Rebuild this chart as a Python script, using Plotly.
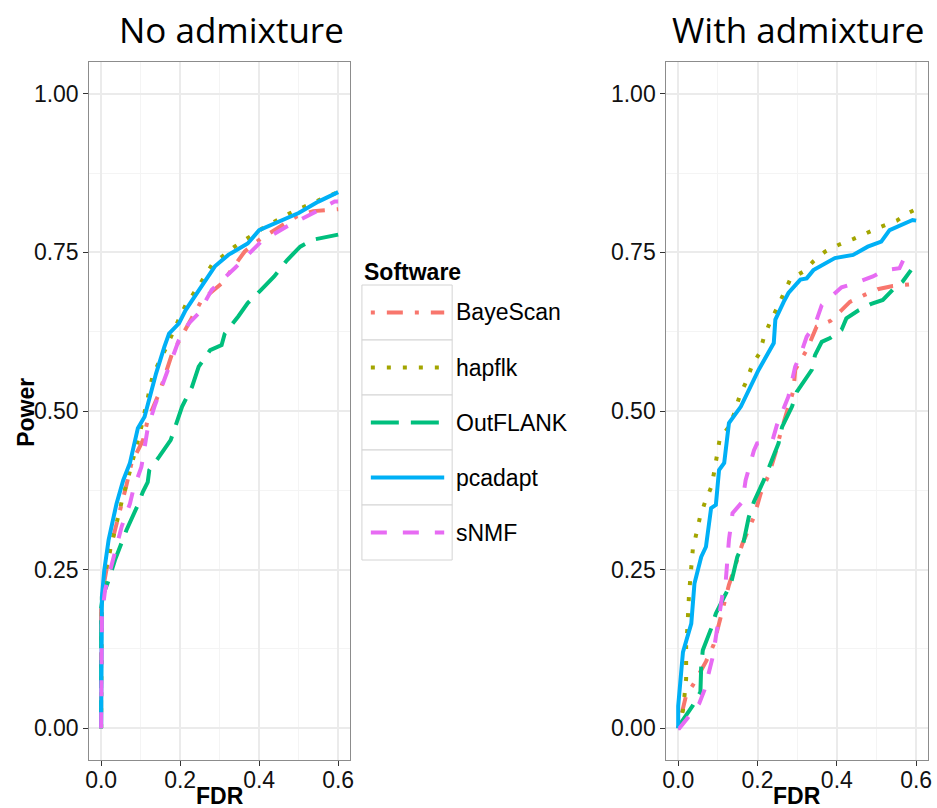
import plotly.graph_objects as go

W, H = 937, 808

software = ["BayeScan", "hapflk", "OutFLANK", "pcadapt", "sNMF"]
colors = ["#F8766D", "#A3A500", "#00BF7D", "#00B0F6", "#E76BF3"]
dashes = ["4px,12px,16px,12px", "4px,12px", "28px,12px", "solid", "16px,16px"]

panel_titles = ["No admixture", "With admixture"]
x_ticks = [0.0, 0.2, 0.4, 0.6]
x_ticklabels = ["0.0", "0.2", "0.4", "0.6"]
y_ticks = [0.0, 0.25, 0.5, 0.75, 1.0]
y_ticklabels = ["0.00", "0.25", "0.50", "0.75", "1.00"]

# ---- No admixture ----
no_bayescan_fdr = [0, 0, 0.005, 0.016, 0.023, 0.035, 0.052, 0.064, 0.077, 0.106, 0.118, 0.147, 0.180, 0.222, 0.255, 0.305, 0.363, 0.405, 0.45, 0.496, 0.537, 0.60]
no_bayescan_pow = [0, 0.19, 0.22, 0.254, 0.283, 0.312, 0.352, 0.383, 0.418, 0.454, 0.486, 0.528, 0.591, 0.638, 0.675, 0.701, 0.751, 0.772, 0.79, 0.807, 0.815, 0.818]

no_hapflk_fdr = [0, 0, 0.002, 0.015, 0.03, 0.044, 0.052, 0.075, 0.10, 0.131, 0.164, 0.197, 0.214, 0.25, 0.28, 0.338, 0.409, 0.446, 0.479, 0.554, 0.60]
no_hapflk_pow = [0, 0.183, 0.207, 0.26, 0.30, 0.333, 0.357, 0.41, 0.47, 0.557, 0.599, 0.645, 0.667, 0.70, 0.730, 0.759, 0.788, 0.801, 0.812, 0.833, 0.845]

no_outflank_fdr = [0, 0, 0.005, 0.019, 0.035, 0.052, 0.064, 0.093, 0.106, 0.118, 0.122, 0.147, 0.176, 0.205, 0.230, 0.247, 0.276, 0.305, 0.313, 0.347, 0.371, 0.405, 0.438, 0.471, 0.504, 0.537, 0.591, 0.60]
no_outflank_pow = [0, 0.19, 0.21, 0.233, 0.265, 0.291, 0.312, 0.352, 0.373, 0.388, 0.407, 0.428, 0.454, 0.507, 0.538, 0.570, 0.596, 0.604, 0.622, 0.649, 0.670, 0.691, 0.712, 0.738, 0.759, 0.770, 0.778, 0.778]

no_pcadapt_fdr = [0, 0, 0.002, 0.008, 0.019, 0.039, 0.056, 0.073, 0.093, 0.110, 0.139, 0.160, 0.172, 0.197, 0.214, 0.243, 0.288, 0.322, 0.371, 0.400, 0.454, 0.50, 0.55, 0.60]
no_pcadapt_pow = [0, 0.166, 0.207, 0.249, 0.297, 0.354, 0.391, 0.418, 0.473, 0.491, 0.559, 0.601, 0.622, 0.638, 0.659, 0.686, 0.728, 0.746, 0.764, 0.785, 0.799, 0.812, 0.83, 0.845]

no_snmf_fdr = [0, 0, 0.002, 0.010, 0.031, 0.052, 0.073, 0.081, 0.102, 0.118, 0.135, 0.160, 0.172, 0.197, 0.222, 0.247, 0.280, 0.338, 0.405, 0.446, 0.471, 0.537, 0.591, 0.60]
no_snmf_pow = [0, 0.16, 0.176, 0.218, 0.268, 0.318, 0.354, 0.375, 0.412, 0.473, 0.507, 0.549, 0.570, 0.612, 0.638, 0.654, 0.691, 0.725, 0.767, 0.783, 0.791, 0.812, 0.830, 0.830]

# ---- With admixture ----
wa_bayescan_fdr = [0, 0.012, 0.020, 0.037, 0.070, 0.089, 0.106, 0.128, 0.162, 0.191, 0.208, 0.228, 0.245, 0.258, 0.278, 0.291, 0.295, 0.324, 0.349, 0.384, 0.412, 0.433, 0.470, 0.503, 0.541, 0.578, 0.59]
wa_bayescan_pow = [0, 0.028, 0.052, 0.068, 0.105, 0.131, 0.173, 0.226, 0.291, 0.333, 0.370, 0.399, 0.433, 0.465, 0.507, 0.533, 0.565, 0.596, 0.633, 0.642, 0.659, 0.672, 0.683, 0.692, 0.697, 0.699, 0.70]

wa_hapflk_fdr = [0, 0.012, 0.016, 0.020, 0.020, 0.020, 0.023, 0.024, 0.027, 0.030, 0.033, 0.037, 0.047, 0.055, 0.068, 0.084, 0.091, 0.098, 0.105, 0.128, 0.143, 0.155, 0.172, 0.187, 0.205, 0.216, 0.231, 0.249, 0.283, 0.316, 0.341, 0.370, 0.405, 0.441, 0.478, 0.514, 0.551, 0.583, 0.6]
wa_hapflk_pow = [0, 0.028, 0.052, 0.078, 0.105, 0.131, 0.156, 0.181, 0.207, 0.232, 0.258, 0.283, 0.310, 0.333, 0.357, 0.381, 0.405, 0.431, 0.457, 0.475, 0.499, 0.524, 0.547, 0.573, 0.591, 0.616, 0.639, 0.662, 0.708, 0.720, 0.736, 0.751, 0.762, 0.771, 0.782, 0.791, 0.800, 0.813, 0.818]

wa_outflank_fdr = [0, 0.003, 0.037, 0.056, 0.058, 0.062, 0.083, 0.095, 0.116, 0.133, 0.149, 0.164, 0.178, 0.191, 0.216, 0.233, 0.253, 0.262, 0.287, 0.299, 0.337, 0.345, 0.362, 0.383, 0.412, 0.424, 0.453, 0.487, 0.516, 0.541, 0.566, 0.587]
wa_outflank_pow = [0, 0.005, 0.036, 0.057, 0.097, 0.123, 0.157, 0.181, 0.207, 0.228, 0.270, 0.291, 0.333, 0.357, 0.391, 0.417, 0.449, 0.475, 0.507, 0.530, 0.565, 0.588, 0.609, 0.615, 0.628, 0.646, 0.658, 0.669, 0.675, 0.691, 0.704, 0.722]

wa_pcadapt_fdr = [0, 0, 0.012, 0.016, 0.033, 0.041, 0.058, 0.070, 0.083, 0.095, 0.103, 0.116, 0.120, 0.128, 0.158, 0.203, 0.241, 0.245, 0.266, 0.278, 0.308, 0.324, 0.341, 0.374, 0.395, 0.441, 0.478, 0.512, 0.533, 0.591, 0.6]
wa_pcadapt_pow = [0, 0.035, 0.12, 0.128, 0.165, 0.228, 0.27, 0.286, 0.347, 0.352, 0.407, 0.418, 0.438, 0.481, 0.507, 0.565, 0.607, 0.644, 0.672, 0.686, 0.707, 0.709, 0.722, 0.733, 0.741, 0.746, 0.759, 0.767, 0.785, 0.801, 0.80]

wa_snmf_fdr = [0, 0.003, 0.053, 0.066, 0.087, 0.112, 0.120, 0.128, 0.137, 0.162, 0.170, 0.191, 0.199, 0.237, 0.249, 0.278, 0.295, 0.308, 0.324, 0.345, 0.362, 0.383, 0.412, 0.449, 0.491, 0.520, 0.558, 0.570]
wa_snmf_pow = [0, 0.0, 0.039, 0.060, 0.112, 0.212, 0.233, 0.297, 0.339, 0.357, 0.391, 0.438, 0.449, 0.452, 0.478, 0.523, 0.570, 0.588, 0.617, 0.636, 0.667, 0.678, 0.695, 0.702, 0.712, 0.722, 0.725, 0.741]

panels = [
    [(no_bayescan_fdr, no_bayescan_pow), (no_hapflk_fdr, no_hapflk_pow), (no_outflank_fdr, no_outflank_pow),
     (no_pcadapt_fdr, no_pcadapt_pow), (no_snmf_fdr, no_snmf_pow)],
    [(wa_bayescan_fdr, wa_bayescan_pow), (wa_hapflk_fdr, wa_hapflk_pow), (wa_outflank_fdr, wa_outflank_pow),
     (wa_pcadapt_fdr, wa_pcadapt_pow), (wa_snmf_fdr, wa_snmf_pow)],
]

fig = go.Figure()
for p, series in enumerate(panels):
    xa = "x" if p == 0 else "x2"
    ya = "y" if p == 0 else "y2"
    for i, (fx, py) in enumerate(series):
        fig.add_trace(go.Scatter(
            x=fx, y=py, mode="lines", name=software[i], showlegend=False,
            line=dict(color=colors[i], width=4, dash=dashes[i]),
            xaxis=xa, yaxis=ya, hoverinfo="skip"))

def px_x(v):
    return v / W

def px_y(v):
    return (H - v) / H

tick_font = dict(family="Liberation Sans, Arial, sans-serif", size=23, color="#111111")
grid = "#EBEBEB"
minor_grid = "#F4F4F4"
border = "#8C8C8C"

def xaxis_cfg(domain, anchor):
    return dict(domain=domain, range=[-0.03, 0.63], tickvals=x_ticks, ticktext=x_ticklabels,
                showgrid=True, gridcolor=grid, gridwidth=2, zeroline=False,
                minor=dict(tickvals=[0.1, 0.3, 0.5], showgrid=True, gridcolor=minor_grid, gridwidth=1, ticks=""),
                showline=True, linecolor=border, linewidth=1, mirror=True,
                ticks="outside", ticklen=5, tickwidth=1, tickcolor="#333333",
                ticklabelstandoff=-6,
                tickfont=tick_font, anchor=anchor, fixedrange=True)

def yaxis_cfg(anchor):
    return dict(domain=[px_y(760), px_y(62)], range=[-0.05, 1.05], tickvals=y_ticks, ticktext=y_ticklabels,
                showgrid=True, gridcolor=grid, gridwidth=2, zeroline=False,
                minor=dict(tickvals=[0.125, 0.375, 0.625, 0.875], showgrid=True, gridcolor=minor_grid, gridwidth=1, ticks=""),
                showline=True, linecolor=border, linewidth=1, mirror=True,
                ticks="outside", ticklen=5, tickwidth=1, tickcolor="#333333",
                tickfont=tick_font, anchor=anchor, fixedrange=True)

fig.update_layout(
    width=W, height=H,
    margin=dict(l=0, r=0, t=0, b=0),
    paper_bgcolor="white", plot_bgcolor="white",
    xaxis=xaxis_cfg([px_x(86), px_x(349)], "y"),
    yaxis=yaxis_cfg("x"),
    xaxis2=xaxis_cfg([px_x(668), px_x(932)], "y2"),
    yaxis2=yaxis_cfg("x2"),
    showlegend=False,
)

annotations = []
# panel titles
for cx, t in zip([229, 801], panel_titles):
    annotations.append(dict(text=t, x=px_x(cx), y=px_y(29), xref="paper", yref="paper",
                            xanchor="center", yanchor="middle", showarrow=False,
                            font=dict(family="Open Sans, sans-serif", size=35, color="#000000")))
# axis titles
for cx in [217.5, 800]:
    annotations.append(dict(text="<b>FDR</b>", x=px_x(cx), y=px_y(796), xref="paper", yref="paper",
                            xanchor="center", yanchor="middle", showarrow=False,
                            font=dict(family="Liberation Sans, Arial, sans-serif", size=23, color="#000000")))
annotations.append(dict(text="<b>Power</b>", x=px_x(22), y=px_y(412), xref="paper", yref="paper",
                        xanchor="center", yanchor="middle", showarrow=False, textangle=-90,
                        font=dict(family="Liberation Sans, Arial, sans-serif", size=23, color="#000000")))

# legend (manual, ggplot style keys)
leg_left, leg_right, leg_top, row_h = 361, 452, 285, 55
annotations.append(dict(text="<b>Software</b>", x=px_x(361), y=px_y(272), xref="paper", yref="paper",
                        xanchor="left", yanchor="middle", showarrow=False,
                        font=dict(family="Liberation Sans, Arial, sans-serif", size=23, color="#000000")))
shapes = []
for i, name in enumerate(software):
    top = leg_top + i * row_h
    cy = top + row_h / 2
    shapes.append(dict(type="rect", xref="paper", yref="paper",
                       x0=px_x(leg_left), x1=px_x(leg_right), y0=px_y(top + row_h), y1=px_y(top),
                       line=dict(color="#D4D4D4", width=1), fillcolor="white", layer="above"))
    shapes.append(dict(type="line", xref="paper", yref="paper",
                       x0=px_x(370), x1=px_x(444), y0=px_y(cy), y1=px_y(cy),
                       line=dict(color=colors[i], width=4, dash=dashes[i]), layer="above"))
    annotations.append(dict(text=name, x=px_x(454), y=px_y(cy), xref="paper", yref="paper",
                            xanchor="left", yanchor="middle", showarrow=False,
                            font=dict(family="Liberation Sans, Arial, sans-serif", size=23, color="#000000")))

fig.update_layout(annotations=annotations, shapes=shapes)
fig.write_html("out.html",
               config={"displayModeBar": False},
               post_script="document.body.style.margin='0';document.body.style.overflow='hidden';")
